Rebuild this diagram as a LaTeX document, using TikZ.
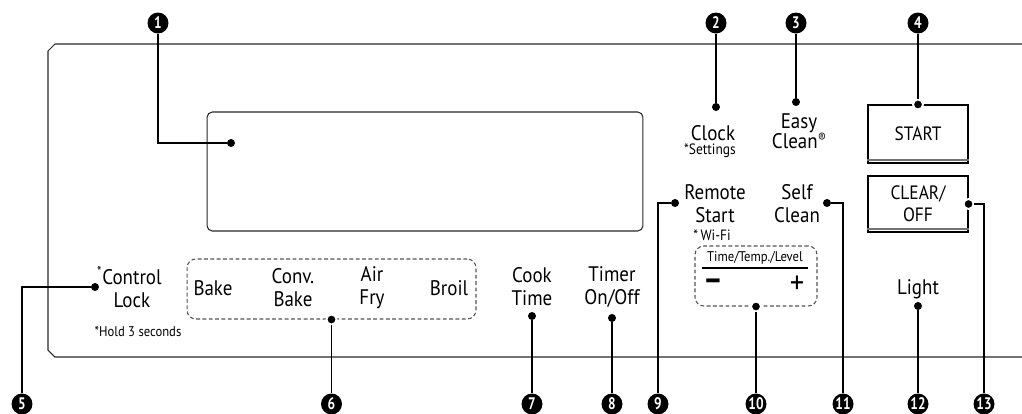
\documentclass[tikz,border=0pt]{standalone}
\usepackage{fontspec}
\setmainfont[FakeStretch=0.9]{PT Sans}
\newfontfamily\numfont[FakeStretch=0.8]{PT Sans}
\usepackage{tikz}
\usetikzlibrary{positioning,calc}
\definecolor{panelgray}{RGB}{40,40,40}
\definecolor{dashgray}{RGB}{85,85,85}
\definecolor{bargray}{RGB}{115,115,115}
\newcommand\keyfont{\fontsize{12}{13.1}\selectfont}
\newcommand\notefont{\fontsize{8}{9}\selectfont}
\tikzset{
  num/.style    ={circle, fill=black, text=white, inner sep=0pt, minimum size=0.42cm,
                  font=\numfont\fontsize{9.5}{9.5}\selectfont\bfseries},
  dot/.style    ={circle, fill=black, inner sep=0pt, minimum size=0.16cm},
  edot/.style   ={dot, draw=white, line width=1.1pt, minimum size=0.2cm},
  lead/.style   ={draw=black, line width=0.6pt},
  panel/.style  ={draw=panelgray, line width=0.6pt},
  keytxt/.style ={font=\keyfont, align=center, inner sep=0pt},
  note/.style   ={font=\notefont, inner sep=0pt},
  sign/.style   ={font=\fontsize{18}{18}\selectfont, inner sep=0pt},
  keybox/.style ={rectangle, draw=black, line width=0.6pt, minimum width=2cm,
                  align=center, inner sep=0pt, font=\fontsize{11}{12.5}\selectfont},
  bar/.style    ={draw=bargray, line width=1.3pt},
  group/.style  ={rectangle, rounded corners=5pt, draw=dashgray, line width=0.6pt,
                  dash pattern=on 2.2pt off 1.4pt, minimum height=1.2cm},
  display/.style={rectangle, rounded corners=3pt, draw=panelgray, line width=0.6pt,
                  minimum width=8.72cm, minimum height=2.38cm}
}
\begin{document}
\begin{tikzpicture}[x=0.02cm, y=-0.02cm]
\useasboundingbox (0,0) rectangle (1022,413);
% control panel
\draw[panel] (1022,44) -- (55,44) -- (48,51) -- (48,350) -- (55,357) -- (1022,357);
\node[display] (display) at (425,171.5) {};
% upper row
\node[keytxt] (clock) at (713,133) {Clock};
\node[note, font=\fontsize{8.5}{9}\selectfont] (clocknote) at (710,151) {*Settings};
\node[keytxt, font=\fontsize{12}{11.4}\selectfont] (easy) at (799,131)
  {Easy\\Clean\raisebox{0.55ex}{\fontsize{7.5}{7.5}\selectfont ®}};
\node[keybox, minimum height=1.16cm] (start) at (918,134) {START};
\draw[bar] ([yshift=0.07cm]start.south west) -- ([yshift=0.07cm]start.south east);
\node[keybox, minimum height=1.12cm] (clear) at (918,204) {CLEAR/\\OFF};
\draw[bar] ([yshift=0.07cm]clear.south west) -- ([yshift=0.07cm]clear.south east);
\node[keytxt] (remote) at (715,204) {Remote\\Start};
\node[note, font=\fontsize{8.5}{9}\selectfont] (wifi) at (712,235) {*\,Wi-Fi};
\node[keytxt] (self) at (797,204) {Self\\Clean};
% time / temp / level pad
\node[group, minimum width=2.44cm] (ttl) at (756,276) {};
\node[note] (ttltxt) at (755,258) {Time/Temp./Level};
\draw[line width=0.9pt] (702,268) -- (808,268);
\node[sign, font=\fontsize{19}{19}\selectfont\bfseries] (minus) at (713,285) {–};
\node[sign] (plus) at (797,285) {+};
\node[keytxt] (light) at (918,289) {Light};
% lower row
\node[keytxt] (lock) at (132,287) {\llap{\textsuperscript{*}}Control\\Lock};
\node[note] (hold) at (138,332) {*Hold 3 seconds};
\node[group, minimum width=5.78cm] (modes) at (331.5,289) {};
\node[keytxt] (bake) at (213,288) {Bake};
\node[keytxt] (conv) at (293,288) {Conv.\\Bake};
\node[keytxt] (air) at (372,288) {Air\\Fry};
\node[keytxt] (broil) at (449,288) {Broil};
\node[keytxt] (cook) at (532,287) {Cook\\Time};
\node[keytxt] (timer) at (612,287) {Timer\\On/Off};
% dots
\node[dot] (d1) at (231,143) {};
\node[dot] (d2) at (716,107) {};
\node[dot] (d3) at (796,102) {};
\node[edot] (d4) at (start.north) {};
\node[dot] (d5) at (95,287) {};
\node[edot] (d6) at (modes.south) {};
\node[dot] (d7) at (532,316) {};
\node[dot] (d8) at (612,318) {};
\node[dot] (d9) at (675,203) {};
\node[edot] (d10) at (ttl.south) {};
\node[dot] (d11) at (827,203) {};
\node[dot] (d12) at (918,306) {};
\node[edot] (d13) at (clear.east) {};
% numbers
\foreach \x/\n in {158/1, 716/2, 796/3, 918/4}
  \node[num] (n\n) at (\x,23) {\n};
\foreach \x/\n in {22/5, 331.5/6, 532/7, 612/8, 658/9, 756/10, 843/11, 918/12, 984/13}
  \node[num] (n\n) at (\x,404) {\n};
% leaders
\draw[lead] (n1) |- (d1);
\draw[lead] (n2) -- (d2);
\draw[lead] (n3) -- (d3);
\draw[lead] (n4) -- (d4);
\draw[lead] (d5) -| (n5);
\draw[lead] (n6) -- (d6);
\draw[lead] (n7) -- (d7);
\draw[lead] (n8) -- (d8);
\draw[lead] (d9) -| (n9);
\draw[lead] (n10) -- (d10);
\draw[lead] (d11) -| (n11);
\draw[lead] (n12) -- (d12);
\draw[lead] (d13) -| (n13);
\end{tikzpicture}
\end{document}
